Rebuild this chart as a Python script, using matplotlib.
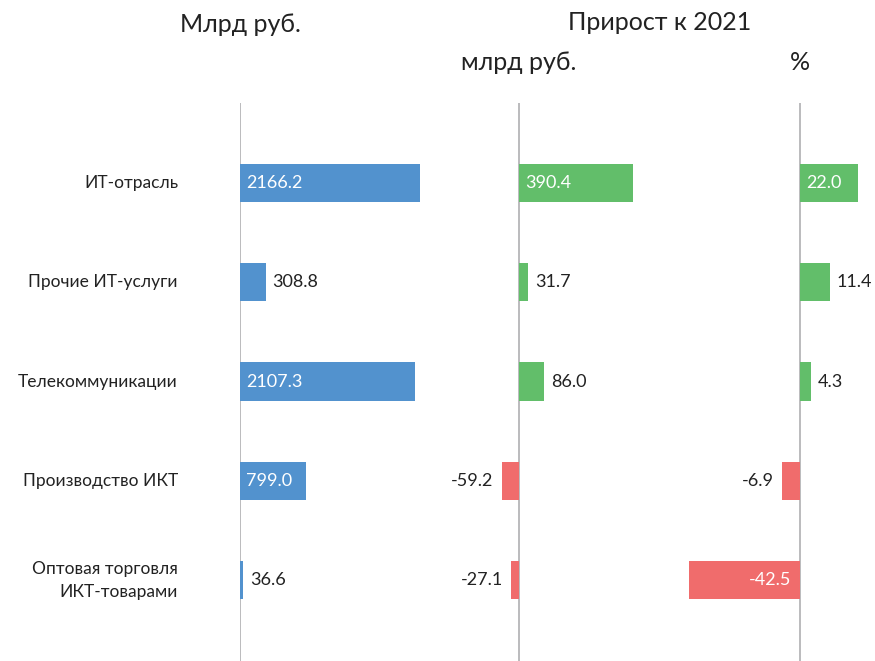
import matplotlib
matplotlib.use("Agg")
import matplotlib.pyplot as plt
from matplotlib.transforms import blended_transform_factory

plt.rcParams['font.family'] = ['Lato', 'DejaVu Sans']

categories = ["ИТ-отрасль", "Прочие ИТ-услуги", "Телекоммуникации",
              "Производство ИКТ", "Оптовая торговля\nИКТ-товарами"]
volume_bln = [2166.2, 308.8, 2107.3, 799.0, 36.6]
growth_bln = [390.4, 31.7, 86.0, -59.2, -27.1]
growth_pct = [22.0, 11.4, 4.3, -6.9, -42.5]

BLUE = "#5292CE"
GREEN = "#62BE6A"
RED = "#F06C6C"
TXT = "#222222"
LINE = "#B5B5B8"

W, H = 875, 661
fig = plt.figure(figsize=(W / 100, H / 100), dpi=100)

def px_axes(left, right, top, bottom):
    return fig.add_axes([left / W, 1 - bottom / H, (right - left) / W, (bottom - top) / H])

top_px, bot_px = 103, 661
row0, step = 183, 99.3
ylim = (4 + (bot_px - (row0 + 4 * step)) / step, -(row0 - top_px) / step)

# panels: (left px, right px, zero px, px per unit)
panels = [
    (240, 470, 240, 0.0832, volume_bln, None),
    (470, 760, 519, 0.2915, growth_bln, "g"),
    (680, 875, 800, 2.62, growth_pct, "g"),
]

fs_val = 13
axes = []
for left, right, zero, sc, vals, kind in panels:
    ax = px_axes(left, right, top_px, bot_px)
    ax.set_xlim(-(zero - left) / sc, (right - zero) / sc)
    ax.set_ylim(*ylim)
    ax.axis("off")
    ax.patch.set_alpha(0)
    ax.axvline(0, color=LINE, lw=1.3, zorder=1)
    ypos = list(range(len(vals)))
    if kind is None:
        colors = [BLUE] * len(vals)
    else:
        colors = [GREEN if v >= 0 else RED for v in vals]
    ax.barh(ypos, vals, height=0.385, color=colors, zorder=2)
    for y, v in zip(ypos, vals):
        wpx = abs(v) * sc
        lab = f"{v:.1f}"
        inside = wpx > 45
        if v >= 0:
            if inside:
                ax.annotate(lab, (0, y), xytext=(4.5, 0), textcoords="offset points",
                            ha="left", va="center", color="white", fontsize=fs_val, zorder=3)
            else:
                ax.annotate(lab, (v, y), xytext=(5, 0), textcoords="offset points",
                            ha="left", va="center", color=TXT, fontsize=fs_val, zorder=3)
        else:
            if inside:
                ax.annotate(lab, (0, y), xytext=(-6.5, 0), textcoords="offset points",
                            ha="right", va="center", color="white", fontsize=fs_val, zorder=3)
            else:
                ax.annotate(lab, (v, y), xytext=(-6, 0), textcoords="offset points",
                            ha="right", va="center", color=TXT, fontsize=fs_val, zorder=3)
    axes.append(ax)

# category labels
tr = blended_transform_factory(fig.transFigure, axes[0].transData)
for i, c in enumerate(categories):
    fig.text(178 / W, i, c, transform=tr, ha="right", va="center",
             fontsize=12.5, color=TXT, linespacing=1.55)

# headers
fs_h = 18
fig.text(240 / W, 1 - 25 / H, "Млрд руб.", ha="center", va="center", fontsize=fs_h, color=TXT)
fig.text(660 / W, 1 - 22 / H, "Прирост к 2021", ha="center", va="center", fontsize=fs_h, color=TXT)
fig.text(519 / W, 1 - 62 / H, "млрд руб.", ha="center", va="center", fontsize=fs_h, color=TXT)
fig.text(800 / W, 1 - 62 / H, "%", ha="center", va="center", fontsize=fs_h, color=TXT)

fig.savefig("out.png", dpi=100)
